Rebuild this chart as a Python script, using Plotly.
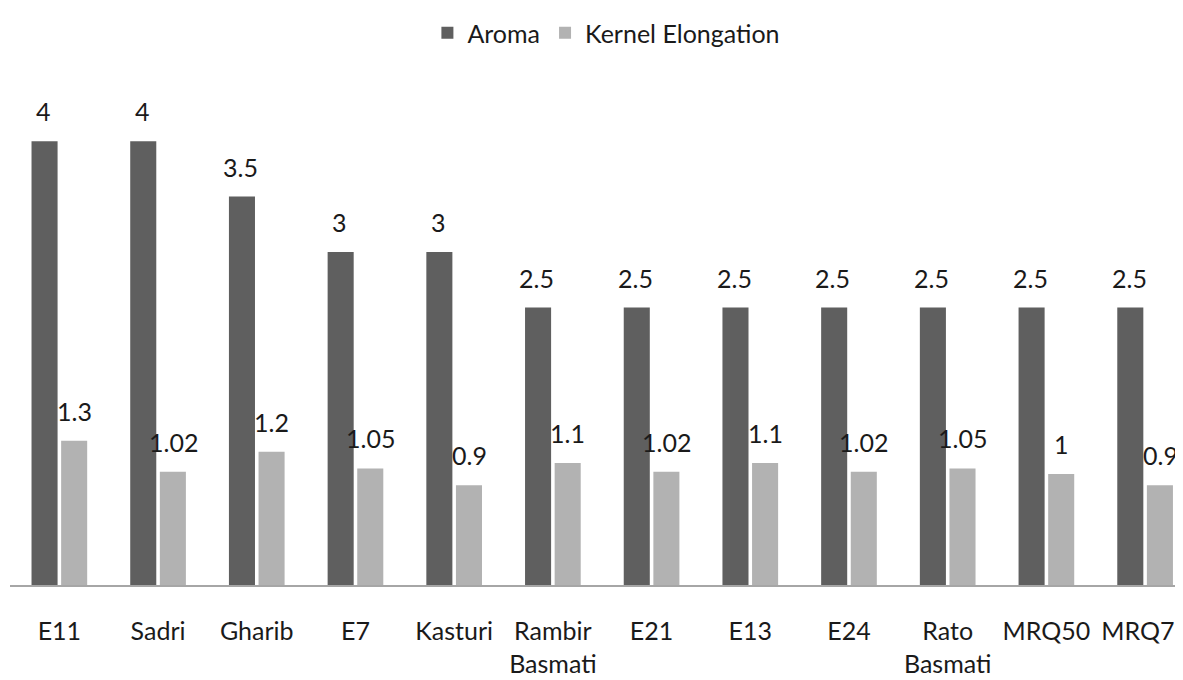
import plotly.graph_objects as go

categories = ["E11", "Sadri", "Gharib", "E7", "Kasturi", "Rambir<br>Basmati", "E21", "E13",
              "E24", "Rato<br>Basmati", "MRQ50", "MRQ72"]
aroma = [4, 4, 3.5, 3, 3, 2.5, 2.5, 2.5, 2.5, 2.5, 2.5, 2.5]
kernel = [1.3, 1.02, 1.2, 1.05, 0.9, 1.1, 1.02, 1.1, 1.02, 1.05, 1, 0.9]
aroma_labels = ["4", "4", "3.5", "3", "3", "2.5", "2.5", "2.5", "2.5", "2.5", "2.5", "2.5"]
kernel_labels = ["1.3", "1.02", "1.2", "1.05", "0.9", "1.1", "1.02", "1.1", "1.02", "1.05", "1", "0.9"]

FONT = "Lato"
DARK = "#5f5f5f"
LIGHT = "#b2b2b2"
TXT = "#1a1a1a"

fig = go.Figure()
fig.add_trace(go.Bar(x=categories, y=aroma, name="Aroma", marker_color=DARK, marker_line_width=0))
fig.add_trace(go.Bar(x=categories, y=kernel, name="Kernel Elongation", marker_color=LIGHT, marker_line_width=0))

for cat, v, lab in zip(categories, aroma, aroma_labels):
    fig.add_annotation(x=cat, y=v, text=lab, showarrow=False, xshift=-16, yshift=30,
                       font=dict(family=FONT, size=25, color=TXT))
for cat, v, lab in zip(categories, kernel, kernel_labels):
    fig.add_annotation(x=cat, y=v, text=lab, showarrow=False, xshift=15, yshift=30,
                       font=dict(family=FONT, size=25, color=TXT))

fig.update_layout(
    width=1183, height=680,
    margin=dict(l=2, r=0, t=72, b=103),
    paper_bgcolor="white", plot_bgcolor="white",
    barmode="group", bargap=0.40, bargroupgap=0.12,
    font=dict(family=FONT, size=25, color=TXT),
    showlegend=True,
    legend=dict(orientation="h", x=0.505, xanchor="center", y=0.997, yanchor="top",
                yref="container", font=dict(family=FONT, size=25, color=TXT),
                itemsizing="constant"),
)
fig.update_xaxes(range=[-0.5, 11.465], showline=True, linecolor="#a6a6a6", linewidth=2,
                 showgrid=False, zeroline=False, ticks="outside", ticklen=23,
                 tickcolor="rgba(0,0,0,0)", ticklabeloverflow="allow",
                 tickfont=dict(family=FONT, size=25, color=TXT))
fig.update_yaxes(range=[0, 4.551], visible=False, showgrid=False, zeroline=False)

fig.write_html("out.html")
